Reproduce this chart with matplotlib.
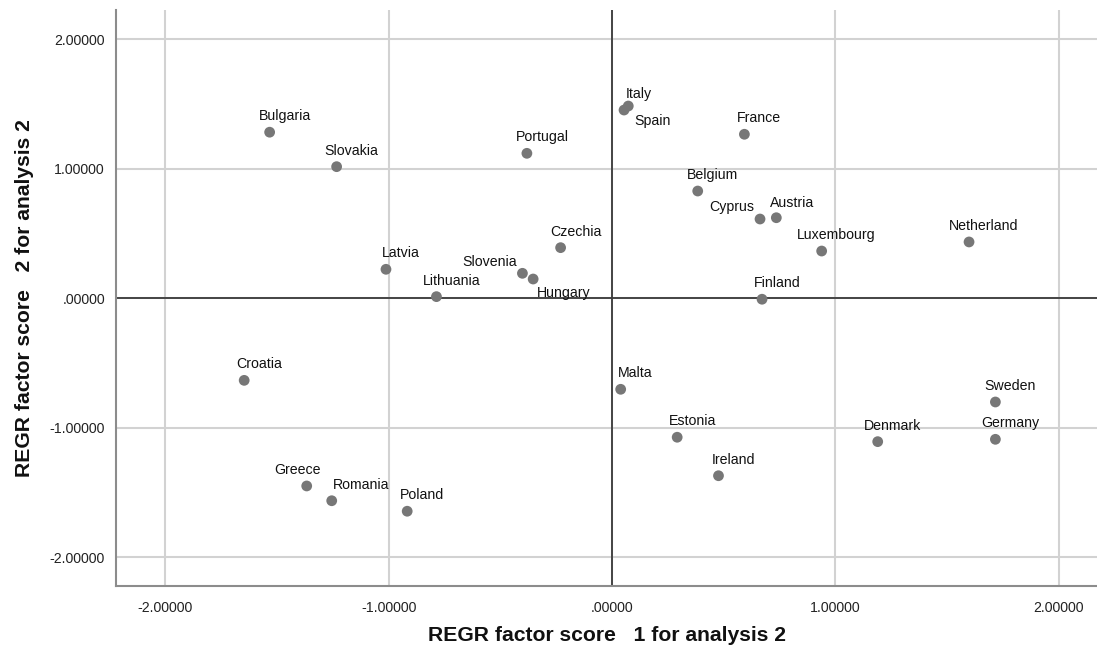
import matplotlib
matplotlib.use("Agg")
import matplotlib.pyplot as plt

plt.rcParams['font.family'] = ['Liberation Sans', 'DejaVu Sans']

countries = ["Bulgaria", "Slovakia", "Portugal", "Italy", "Spain", "France",
             "Belgium", "Cyprus", "Austria", "Luxembourg", "Netherland", "Finland",
             "Czechia", "Slovenia", "Hungary", "Lithuania", "Latvia", "Croatia",
             "Greece", "Romania", "Poland", "Malta", "Estonia", "Ireland",
             "Denmark", "Sweden", "Germany"]
factor1 = [-1.533, -1.233, -0.381, 0.073, 0.054, 0.593,
           0.384, 0.663, 0.736, 0.939, 1.599, 0.672,
           -0.230, -0.401, -0.353, -0.786, -1.012, -1.647,
           -1.367, -1.255, -0.917, 0.039, 0.292, 0.477,
           1.190, 1.717, 1.717]
factor2 = [1.281, 1.015, 1.118, 1.483, 1.452, 1.265,
           0.827, 0.611, 0.621, 0.364, 0.434, -0.008,
           0.390, 0.192, 0.148, 0.012, 0.223, -0.634,
           -1.449, -1.563, -1.644, -0.703, -1.073, -1.370,
           -1.107, -0.801, -1.089]
ticks = [-2.0, -1.0, 0.0, 1.0, 2.0]
tick_labels = ["-2.00000", "-1.00000", ".00000", "1.00000", "2.00000"]

# label placement (pixel offsets from point)
default_offset = (15, 16)
special_offsets = {"Italy": (11, 12), "Spain": (28, -11), "Slovenia": (-33, 11),
                   "Hungary": (31, -14), "Cyprus": (-28, 12), "Austria": (16, 15),
                   "Greece": (-9, 16), "Romania": (29, 16)}

fig = plt.figure(figsize=(10.97, 6.55), dpi=100)
ax = fig.add_axes([116/1097, 69/655, 1 - 116/1097, (586-10)/655])

ax.set_xlim(-2.221, 2.172)
ax.set_ylim(-2.221, 2.224)

ax.set_xticks(ticks)
ax.set_xticklabels(tick_labels)
ax.set_yticks(ticks)
ax.set_yticklabels(tick_labels)
ax.tick_params(length=0, labelsize=10.2, colors="#222222")
ax.tick_params(axis='x', pad=11)
ax.tick_params(axis='y', pad=8)

ax.grid(True, color="#d2d2d2", linewidth=1.5)
ax.set_axisbelow(True)
ax.axhline(0, color="#3a3a3a", linewidth=1.3, zorder=2)
ax.axvline(0, color="#3a3a3a", linewidth=1.3, zorder=2)

for s in ["top", "right"]:
    ax.spines[s].set_visible(False)
for s in ["left", "bottom"]:
    ax.spines[s].set_color("#8c8c8c")
    ax.spines[s].set_linewidth(1.5)

ax.scatter(factor1, factor2, s=60, color="#777777", edgecolors="none", zorder=3)

for name, x, y in zip(countries, factor1, factor2):
    off = special_offsets.get(name, default_offset)
    ax.annotate(name, (x, y), xytext=off, textcoords="offset pixels",
                ha="center", va="center", fontsize=10.2, color="#111111", zorder=4)

ax.set_xlabel("REGR factor score   1 for analysis 2", fontsize=15.2,
              fontweight="bold", labelpad=8, color="#111111")
ax.set_ylabel("REGR factor score   2 for analysis 2", fontsize=15.2,
              fontweight="bold", labelpad=11, color="#111111")

fig.savefig("out.png", dpi=100)
